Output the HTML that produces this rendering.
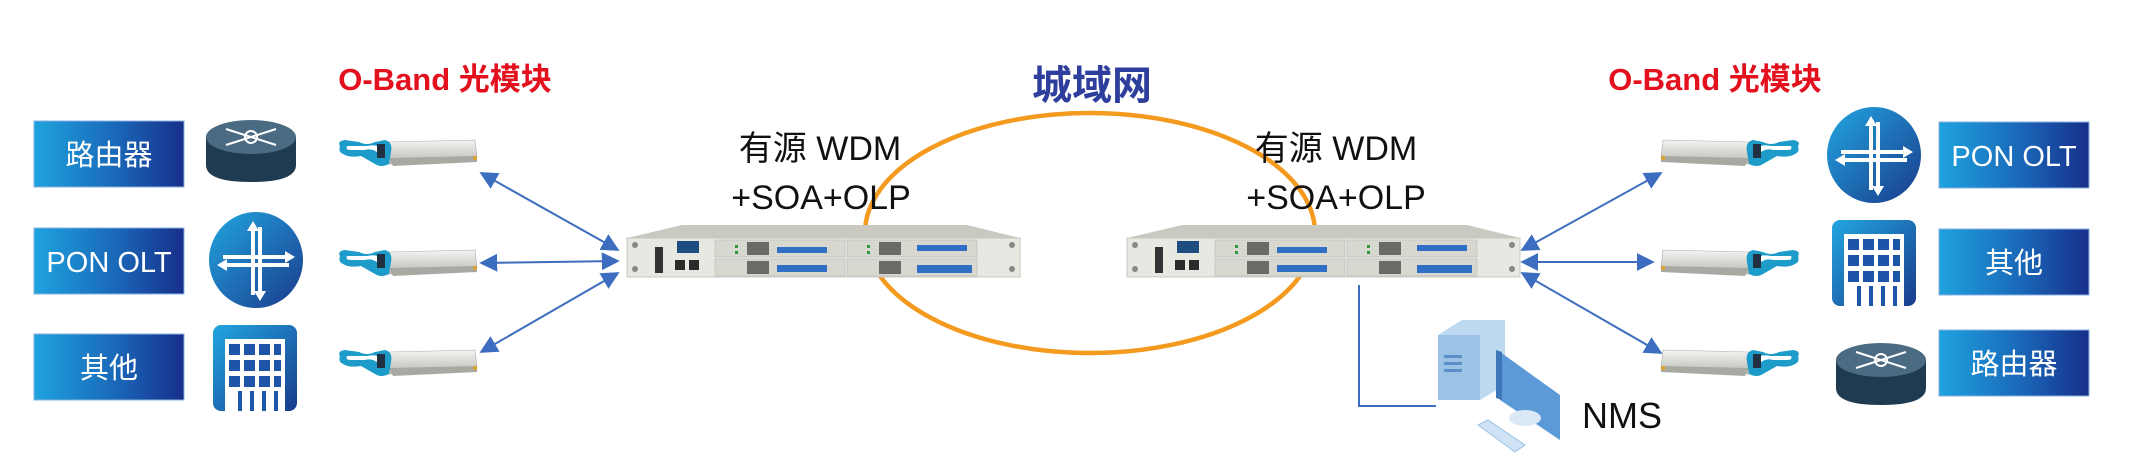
<!DOCTYPE html>
<html><head><meta charset="utf-8"><style>
html,body{margin:0;padding:0;background:#fff;width:2134px;height:470px;overflow:hidden}
svg{display:block}
.cn{font-family:"Liberation Sans","Noto Sans CJK SC",sans-serif}
</style></head><body>
<svg width="2134" height="470" viewBox="0 0 2134 470" xmlns="http://www.w3.org/2000/svg">
<defs>
<linearGradient id="bx" x1="0" x2="1" y1="0" y2="0"><stop offset="0" stop-color="#1ea3de"/><stop offset="0.55" stop-color="#1a67b8"/><stop offset="1" stop-color="#172f8a"/></linearGradient>
<linearGradient id="ic" x1="0" x2="1" y1="0" y2="1"><stop offset="0" stop-color="#22a6e0"/><stop offset="1" stop-color="#1a3a8c"/></linearGradient>
<linearGradient id="metal" x1="0" x2="0" y1="0" y2="1"><stop offset="0" stop-color="#f4f4f2"/><stop offset="1" stop-color="#b9b9b4"/></linearGradient>
<linearGradient id="scr" x1="0" x2="1"><stop offset="0" stop-color="#bcd9f0"/><stop offset="1" stop-color="#9cc3e6"/></linearGradient>
<marker id="ah" viewBox="0 0 10 10" refX="9" refY="5" markerWidth="9" markerHeight="9" orient="auto-start-reverse"><path d="M0,0 L10,5 L0,10 z" fill="#3d6dbf"/></marker>
<g id="box"><rect width="150" height="66" fill="url(#bx)" stroke="#8ab0e0" stroke-width="1"/></g>
<g id="router">
<path d="M2,18 L2,46 Q2,63 47,63 Q92,63 92,46 L92,18 Z" fill="#1f3b52"/>
<ellipse cx="47" cy="18" rx="45" ry="17" fill="#4b6b82"/>
<g stroke="#fff" stroke-width="2" fill="none"><path d="M22,10 L72,26 M72,10 L22,26"/><circle cx="47" cy="18" r="6"/></g>
</g>
<g id="olt">
<ellipse cx="47" cy="47" rx="47" ry="48" fill="url(#ic)"/>
<g fill="#fff"><rect x="42" y="14" width="4" height="68"/><rect x="49" y="14" width="4" height="68"/><rect x="14" y="42" width="66" height="4"/><rect x="14" y="50" width="66" height="4"/>
<path d="M44,8 L38,18 L50,18Z M51,88 L45,78 L57,78Z M86,44 L76,38 L76,50Z M8,52 L18,46 L18,58Z"/></g>
</g>
<g id="bld">
<rect width="84" height="86" rx="8" fill="url(#ic)"/>
<rect x="12" y="14" width="60" height="72" fill="#fff"/>
<g fill="#1f55a8"><rect x="16" y="19" width="11" height="11"/><rect x="31" y="19" width="11" height="11"/><rect x="46" y="19" width="11" height="11"/><rect x="61" y="19" width="7" height="11"/>
<rect x="16" y="35" width="11" height="11"/><rect x="31" y="35" width="11" height="11"/><rect x="46" y="35" width="11" height="11"/><rect x="61" y="35" width="7" height="11"/>
<rect x="16" y="51" width="11" height="11"/><rect x="31" y="51" width="11" height="11"/><rect x="46" y="51" width="11" height="11"/><rect x="61" y="51" width="7" height="11"/>
<rect x="25" y="66" width="4" height="20"/><rect x="37" y="66" width="4" height="20"/><rect x="49" y="66" width="4" height="20"/><rect x="61" y="66" width="4" height="20"/></g>
</g>
<g id="sfp">
<path d="M52,4 L138,2 L140,20 L52,26 Z" fill="url(#metal)" stroke="#aaa" stroke-width="0.6"/>
<path d="M52,20 L140,18 L140,24 L56,28 Z" fill="#a9a9a4"/>
<rect x="136" y="18" width="4" height="4" fill="#d6a53a"/>
<path d="M3,8 Q0,3 8,2 L22,4 Q30,8 38,4 L48,2 Q56,4 54,14 L52,26 Q44,30 38,26 L24,18 Q12,20 6,16 Q1,14 3,8 Z M10,8 Q8,12 14,12 L28,12 Q34,10 40,14 L44,10 Q40,6 30,8 Z" fill="#1d9bc9" fill-rule="evenodd"/>
<rect x="40" y="6" width="8" height="14" fill="#203040"/>
</g>
<g id="chassis">
<path d="M55,0 L340,0 L393,13 L0,13 Z" fill="#c9c9c2"/>
<rect x="0" y="13" width="393" height="39" fill="#e8e8e2" stroke="#c8c8c0" stroke-width="1"/>
<circle cx="8" cy="20" r="3" fill="#888"/><circle cx="385" cy="20" r="3" fill="#888"/><circle cx="385" cy="44" r="3" fill="#888"/><circle cx="8" cy="44" r="3" fill="#888"/>
<rect x="28" y="22" width="8" height="26" fill="#333"/>
<rect x="50" y="16" width="22" height="12" fill="#1f4c7e"/>
<rect x="48" y="35" width="10" height="10" fill="#2a2a2a"/><rect x="62" y="35" width="10" height="10" fill="#2a2a2a"/>
<g fill="#d8d8d0" stroke="#bbb" stroke-width="0.6"><rect x="88" y="15" width="130" height="17"/><rect x="88" y="34" width="130" height="17"/><rect x="220" y="15" width="130" height="17"/><rect x="220" y="34" width="130" height="17"/></g>
<g fill="#6a6a66"><rect x="120" y="17" width="22" height="13"/><rect x="120" y="36" width="22" height="13"/><rect x="252" y="17" width="22" height="13"/><rect x="252" y="36" width="22" height="13"/></g>
<g fill="#2f6fc4"><rect x="150" y="22" width="50" height="6"/><rect x="150" y="40" width="50" height="7"/><rect x="290" y="20" width="50" height="6"/><rect x="290" y="40" width="55" height="8"/></g>
<g fill="#2c9a3a"><rect x="108" y="20" width="3" height="3"/><rect x="108" y="26" width="3" height="3"/><rect x="240" y="20" width="3" height="3"/><rect x="240" y="26" width="3" height="3"/></g>
</g>
</defs>

<!-- ellipse -->
<ellipse cx="1090" cy="233" rx="225" ry="120" fill="none" stroke="#f39a1f" stroke-width="4.5"/>

<!-- left -->
<use href="#box" x="34" y="121"/><use href="#box" x="34" y="228"/><use href="#box" x="34" y="334"/>
<g class="cn" fill="#fff" font-size="29" text-anchor="middle">
<text x="109" y="165">路由器</text><text x="109" y="272">PON OLT</text><text x="109" y="378">其他</text>
<text x="2014" y="166">PON OLT</text><text x="2014" y="273">其他</text><text x="2014" y="374">路由器</text>
</g>
<use href="#router" x="204" y="119"/>
<use href="#olt" x="209" y="213"/>
<use href="#bld" x="213" y="325"/>
<use href="#sfp" x="337" y="138"/><use href="#sfp" x="337" y="248"/><use href="#sfp" x="337" y="348"/>
<g stroke="#3d6dbf" stroke-width="2" marker-start="url(#ah)" marker-end="url(#ah)">
<line x1="481" y1="173" x2="618" y2="250"/><line x1="481" y1="263" x2="618" y2="261"/><line x1="481" y1="352" x2="618" y2="273"/>
<line x1="1522" y1="250" x2="1661" y2="173"/><line x1="1522" y1="262" x2="1653" y2="262"/><line x1="1522" y1="273" x2="1661" y2="353"/>
</g>
<use href="#chassis" x="627" y="225"/>
<use href="#chassis" x="1127" y="225"/>

<g class="cn" fill="#111" font-size="34" text-anchor="middle">
<text x="820" y="160">有源 WDM</text><text x="821" y="209">+SOA+OLP</text>
<text x="1336" y="160">有源 WDM</text><text x="1336" y="209">+SOA+OLP</text>
<text x="1622" y="428" font-size="36">NMS</text>
</g>
<g class="cn" fill="#e3101e" font-size="31" font-weight="bold" text-anchor="middle">
<text x="445" y="90">O-Band 光模块</text><text x="1715" y="90">O-Band 光模块</text>
</g>
<text class="cn" x="1092" y="99" fill="#2d3e9c" font-size="40" font-weight="bold" text-anchor="middle">城域网</text>

<!-- right -->
<use href="#box" x="1939" y="122"/><use href="#box" x="1939" y="229"/><use href="#box" x="1939" y="330"/>
<g class="cn" fill="#fff" font-size="29" text-anchor="middle">
<text x="2014" y="166">PON OLT</text><text x="2014" y="273">其他</text><text x="2014" y="374">路由器</text>
</g>
<use href="#olt" x="1827" y="108"/>
<use href="#bld" x="1832" y="220"/>
<use href="#router" x="1834" y="342"/>
<g transform="translate(1801,138) scale(-1,1)"><use href="#sfp"/></g>
<g transform="translate(1801,248) scale(-1,1)"><use href="#sfp"/></g>
<g transform="translate(1801,348) scale(-1,1)"><use href="#sfp"/></g>

<!-- NMS -->
<polyline points="1359,285 1359,406 1436,406" fill="none" stroke="#3d6dbf" stroke-width="2"/>
<g>
<path d="M1438,335 L1462,320 L1505,320 L1505,385 L1480,400 L1438,400 Z" fill="#bcd9f0"/>
<path d="M1438,335 L1480,335 L1480,400 L1438,400Z" fill="#9cc3e6"/>
<rect x="1444" y="355" width="18" height="3" fill="#5b8fc8"/><rect x="1444" y="362" width="18" height="3" fill="#5b8fc8"/><rect x="1444" y="369" width="18" height="3" fill="#5b8fc8"/>
<path d="M1500,352 L1560,395 L1560,440 L1500,400 Z" fill="#5b9ad6"/>
<path d="M1496,350 L1502,352 L1502,400 L1496,398Z" fill="#3e78b8"/>
<ellipse cx="1525" cy="418" rx="16" ry="8" fill="#dbe9f6"/>
<path d="M1478,425 L1488,420 L1525,445 L1515,452 Z" fill="#cfe3f4" stroke="#9cc3e6"/>
</g>
</svg>
</body></html>
